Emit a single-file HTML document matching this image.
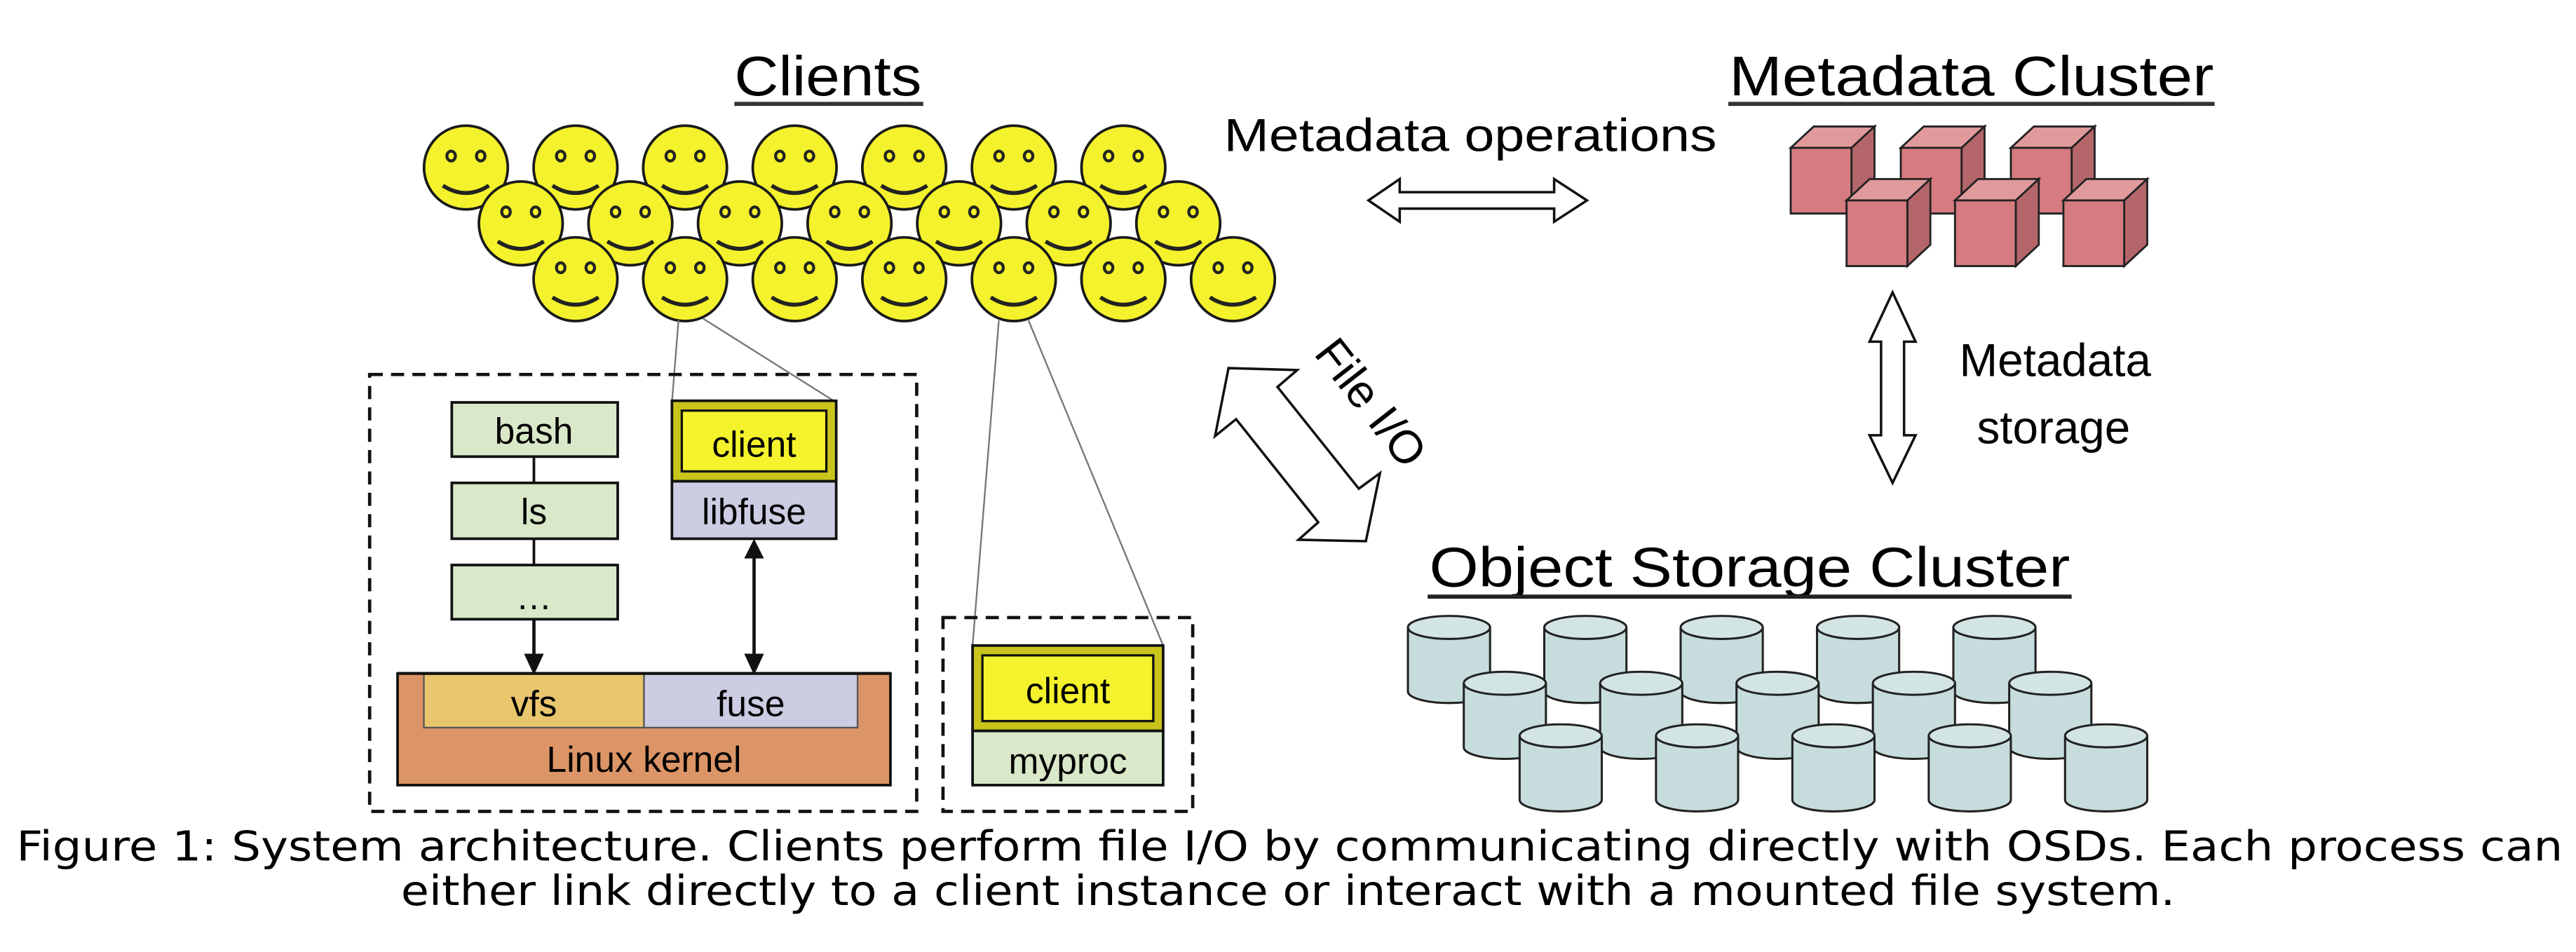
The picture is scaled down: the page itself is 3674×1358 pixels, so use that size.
<!DOCTYPE html>
<html><head><meta charset="utf-8"><style>html,body{margin:0;padding:0;background:#fff}svg{display:block;font-family:"Liberation Sans",Arial,sans-serif}</style></head>
<body>
<svg width="3674" height="1358" viewBox="0 0 1568 579.6" preserveAspectRatio="none" xmlns="http://www.w3.org/2000/svg" style="font-family:'Liberation Sans',Arial,sans-serif">
<defs>
<g id="sm">
<ellipse cx="0" cy="0" rx="25.5" ry="25.5" fill="#f4f22c" stroke="#1a1a1a" stroke-width="1.6"/>
<ellipse cx="-9" cy="-7" rx="2.6" ry="3" fill="#f4f22c" stroke="#222" stroke-width="1.8"/>
<ellipse cx="9" cy="-7" rx="2.6" ry="3" fill="#f4f22c" stroke="#222" stroke-width="1.8"/>
<path d="M-14 11 Q0 20 14 11" fill="none" stroke="#222" stroke-width="2.4"/>
</g>
<g id="cube">
<polygon points="0,0 14,-13 51,-13 37,0" fill="#e09a9c" stroke="#222" stroke-width="1.2"/>
<polygon points="37,0 51,-13 51,27 37,40" fill="#b5666a" stroke="#222" stroke-width="1.2"/>
<rect x="0" y="0" width="37" height="40" fill="#d67b80" stroke="#222" stroke-width="1.2"/>
</g>
<g id="cyl">
<path d="M0 7 L0 46 A25 7 0 0 0 50 46 L50 7" fill="#c7dddd" stroke="#222" stroke-width="1.3"/>
<ellipse cx="25" cy="7" rx="25" ry="7" fill="#d3e4e4" stroke="#222" stroke-width="1.3"/>
</g>
</defs>

<text x="504" y="58" font-size="34" text-anchor="middle" textLength="114" lengthAdjust="spacingAndGlyphs">Clients</text>
<rect x="447" y="62" width="115" height="2.5" fill="#333"/>

<g>
<use href="#sm" x="283.6" y="102"/><use href="#sm" x="350.3" y="102"/><use href="#sm" x="417" y="102"/><use href="#sm" x="483.7" y="102"/><use href="#sm" x="550.4" y="102"/><use href="#sm" x="617.1" y="102"/><use href="#sm" x="683.8" y="102"/>
<use href="#sm" x="317" y="136"/><use href="#sm" x="383.7" y="136"/><use href="#sm" x="450.4" y="136"/><use href="#sm" x="517.1" y="136"/><use href="#sm" x="583.8" y="136"/><use href="#sm" x="650.5" y="136"/><use href="#sm" x="717.2" y="136"/>
<use href="#sm" x="350.3" y="170"/><use href="#sm" x="417" y="170"/><use href="#sm" x="483.7" y="170"/><use href="#sm" x="550.4" y="170"/><use href="#sm" x="617.1" y="170"/><use href="#sm" x="683.8" y="170"/><use href="#sm" x="750.5" y="170"/>
</g>

<g stroke="#777" stroke-width="1" fill="none">
<line x1="413" y1="195" x2="409" y2="245"/>
<line x1="428" y1="194" x2="509" y2="245"/>
<line x1="608" y1="195" x2="592" y2="393"/>
<line x1="626" y1="195" x2="708" y2="393"/>
</g>

<rect x="225" y="228" width="333" height="266" fill="none" stroke="#111" stroke-width="2" stroke-dasharray="8,5"/>
<g stroke="#111" stroke-width="1.6">
<rect x="275" y="245" width="101" height="33" fill="#d8e8c8"/>
<rect x="275" y="294" width="101" height="34" fill="#d8e8c8"/>
<rect x="275" y="344" width="101" height="33" fill="#d8e8c8"/>
<line x1="325" y1="278" x2="325" y2="294"/>
<line x1="325" y1="328" x2="325" y2="344"/>
</g>
<g font-size="22" text-anchor="middle">
<text x="325" y="270">bash</text>
<text x="325" y="319">ls</text>
<text x="325" y="371">…</text>
</g>
<rect x="409" y="244" width="100" height="49" fill="#c9c41c" stroke="#111" stroke-width="1.6"/>
<rect x="415" y="250" width="88" height="37" fill="#f4f22c" stroke="#111" stroke-width="1.4"/>
<text x="459" y="278" font-size="22" text-anchor="middle">client</text>
<rect x="409" y="293" width="100" height="35" fill="#cccce2" stroke="#111" stroke-width="1.6"/>
<text x="459" y="319" font-size="22" text-anchor="middle">libfuse</text>

<g stroke="#111" stroke-width="2" fill="#111">
<line x1="325" y1="377" x2="325" y2="402"/>
<polygon points="319,398 331,398 325,411" stroke="none"/>
<line x1="459" y1="336" x2="459" y2="402"/>
<polygon points="453,340 465,340 459,328" stroke="none"/>
<polygon points="453,398 465,398 459,411" stroke="none"/>
</g>
<rect x="242" y="410" width="300" height="68" fill="#dc9566" stroke="#111" stroke-width="1.6"/>
<rect x="258" y="410" width="134" height="33" fill="#e9c66d" stroke="#555" stroke-width="1"/>
<rect x="392" y="410" width="130" height="33" fill="#cccce2" stroke="#555" stroke-width="1"/>
<line x1="242" y1="410" x2="542" y2="410" stroke="#111" stroke-width="1.8"/>
<g font-size="22" text-anchor="middle">
<text x="325" y="436">vfs</text>
<text x="457" y="436">fuse</text>
<text x="392" y="470">Linux kernel</text>
</g>

<rect x="574" y="376" width="152" height="118" fill="none" stroke="#111" stroke-width="2" stroke-dasharray="8,5"/>
<rect x="592" y="393" width="116" height="52" fill="#c9c41c" stroke="#111" stroke-width="1.6"/>
<rect x="598" y="399" width="104" height="40" fill="#f4f22c" stroke="#111" stroke-width="1.4"/>
<text x="650" y="428" font-size="22" text-anchor="middle">client</text>
<rect x="592" y="445" width="116" height="33" fill="#d8e8c8" stroke="#111" stroke-width="1.6"/>
<text x="650" y="471" font-size="22" text-anchor="middle">myproc</text>

<text x="895" y="92" font-size="28" text-anchor="middle" textLength="300" lengthAdjust="spacingAndGlyphs">Metadata operations</text>
<polygon points="833,122 852,109 852,117 946,117 946,109 966,122 946,135 946,127 852,127 852,135" fill="#fff" stroke="#111" stroke-width="1.5"/>

<text x="1200" y="58" font-size="34" text-anchor="middle" textLength="295" lengthAdjust="spacingAndGlyphs">Metadata Cluster</text>
<rect x="1052" y="62" width="296" height="2.5" fill="#333"/>
<use href="#cube" x="1090" y="90"/><use href="#cube" x="1157" y="90"/><use href="#cube" x="1224" y="90"/>
<use href="#cube" x="1124" y="122"/><use href="#cube" x="1190" y="122"/><use href="#cube" x="1256" y="122"/>

<polygon points="1152,178 1166,208 1159,208 1159,265 1166,265 1152,294 1138,265 1145,265 1145,208 1138,208" fill="#fff" stroke="#111" stroke-width="1.5"/>
<text x="1251" y="229" font-size="28" text-anchor="middle">Metadata</text>
<text x="1250" y="270" font-size="28" text-anchor="middle">storage</text>

<polygon points="747.8,224.1 789.6,225.3 777.6,235.6 827.1,297.5 840,288.1 831.4,329.5 790.4,328.6 802.4,318 752.4,255.2 739.6,265.5" fill="#fff" stroke="#111" stroke-width="1.5"/>
<text x="0" y="0" font-size="28" text-anchor="middle" transform="translate(827,251) rotate(52)">File I/O</text>

<text x="1065" y="357" font-size="34" text-anchor="middle" textLength="390" lengthAdjust="spacingAndGlyphs">Object Storage Cluster</text>
<rect x="869" y="362" width="392" height="2.5" fill="#222"/>
<g>
<use href="#cyl" x="857" y="375"/><use href="#cyl" x="940" y="375"/><use href="#cyl" x="1023" y="375"/><use href="#cyl" x="1106" y="375"/><use href="#cyl" x="1189" y="375"/>
<use href="#cyl" x="891" y="409"/><use href="#cyl" x="974" y="409"/><use href="#cyl" x="1057" y="409"/><use href="#cyl" x="1140" y="409"/><use href="#cyl" x="1223" y="409"/>
<use href="#cyl" x="925" y="441"/><use href="#cyl" x="1008" y="441"/><use href="#cyl" x="1091" y="441"/><use href="#cyl" x="1174" y="441"/><use href="#cyl" x="1257" y="441"/>
</g>

<g style="font-family:'DejaVu Sans',Verdana,sans-serif" font-size="25">
<text x="10" y="524" textLength="1550" lengthAdjust="spacingAndGlyphs">Figure 1: System architecture. Clients perform file I/O by communicating directly with OSDs. Each process can</text>
<text x="784" y="551" text-anchor="middle" textLength="1080" lengthAdjust="spacingAndGlyphs">either link directly to a client instance or interact with a mounted file system.</text>
</g>
</svg>
</body></html>
